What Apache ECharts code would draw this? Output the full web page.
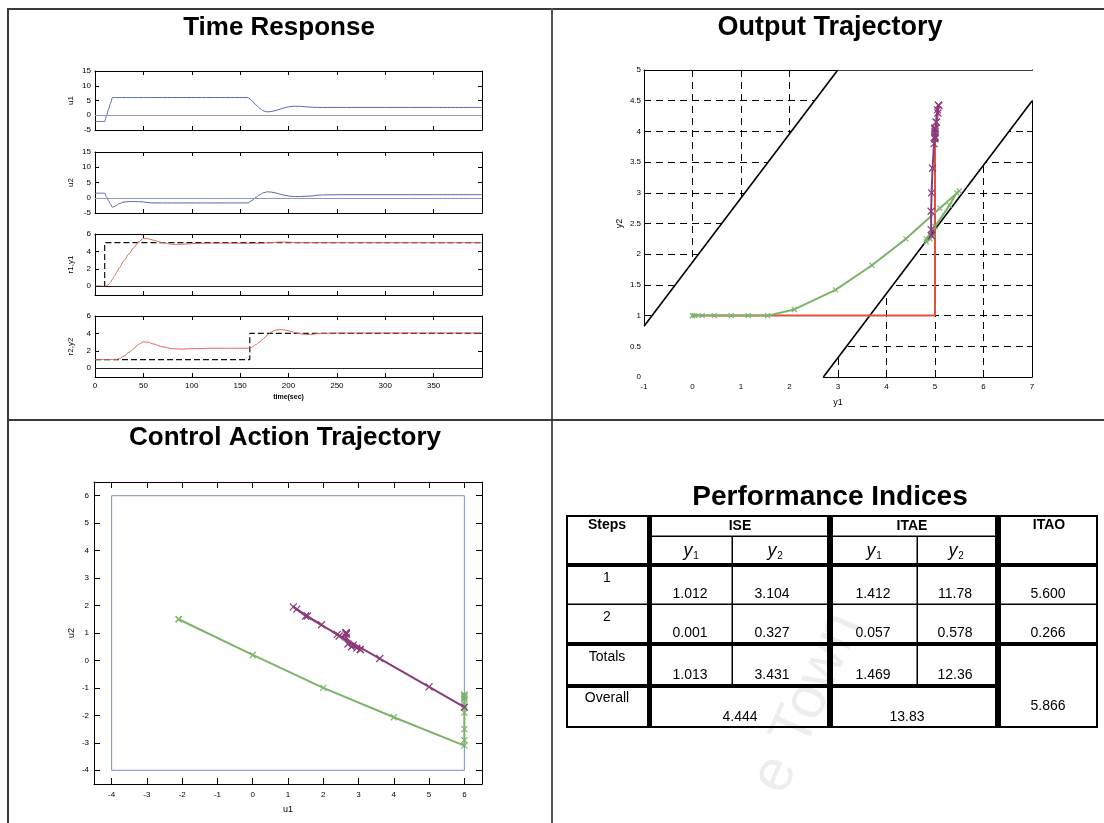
<!DOCTYPE html>
<html>
<head>
<meta charset="utf-8">
<title>Step test results</title>
<script src="https://cdn.jsdelivr.net/npm/echarts@6.0.0/dist/echarts.min.js"></script>
<style>
  html, body { margin: 0; padding: 0; background: #fff; }
  #chart { width: 1104px; height: 823px; }
</style>
</head>
<body>
<div id="chart"></div>
<script>
const FONT = "'Liberation Sans', Arial, Helvetica, sans-serif";

// Simulation time base, seconds
const time = [0, 10, 12, 14, 16, 18, 20, 22, 25, 30, 35, 40, 45, 50, 55, 60, 70, 80, 90, 100, 120, 140, 158,
              162, 166, 170, 174, 178, 182, 186, 190, 195, 200, 205, 210, 215, 220, 225, 230, 240, 260, 300, 350, 400];

// Manipulated inputs
const u1 = [-2.1, -2.1, 0.0, 2.0, 4.0, 6.0, 6, 6, 6, 6, 6, 6, 6, 6, 6, 6, 6, 6, 6, 6, 6, 6, 6,
            5.0, 3.6, 2.4, 1.5, 1.15, 1.25, 1.55, 1.95, 2.45, 2.85, 3.05, 3.05, 2.95, 2.8, 2.7, 2.65, 2.65, 2.65, 2.65, 2.65, 2.65];
const u2 = [1.5, 1.5, 0.2, -1.0, -2.07, -3.1, -2.9, -2.5, -1.9, -1.4, -1.25, -1.25, -1.3, -1.35, -1.6, -1.7, -1.7, -1.7, -1.7, -1.7, -1.7, -1.7, -1.7,
            -0.96, 0.07, 0.95, 1.62, 1.95, 1.87, 1.62, 1.3, 0.89, 0.56, 0.4, 0.4, 0.45, 0.5, 0.6, 0.85, 0.95, 1.0, 1.0, 1.0, 1.0];

// Controlled outputs
const y1 = [0, 0, 0.05, 0.2, 0.45, 0.8, 1.15, 1.55, 2.1, 2.95, 3.7, 4.4, 5.1, 5.5, 5.45, 5.3, 5.0, 4.82, 4.82, 4.9, 4.95, 4.95, 4.93,
            4.92, 4.92, 4.93, 4.95, 4.98, 5.02, 5.05, 5.07, 5.08, 5.06, 5.03, 5.0, 5.0, 5.0, 5.0, 5.0, 5.0, 5.0, 5.0, 5.0, 5.0];
const y2 = [1, 1, 1, 1, 1, 1, 1, 1.0, 1.1, 1.42, 1.82, 2.25, 2.75, 3.03, 3.0, 2.8, 2.45, 2.25, 2.2, 2.25, 2.3, 2.3, 2.3,
            2.4, 2.7, 3.0, 3.4, 3.8, 4.15, 4.35, 4.43, 4.42, 4.3, 4.15, 4.0, 3.92, 3.88, 3.9, 3.98, 4.03, 4.05, 4.05, 4.05, 4.05];

// Set-point schedule: step times and the levels that hold from each step on
const stepTimes = [0, 10, 160];
const r1Levels = [0, 5, 5];
const r2Levels = [1, 1, 4];
const endTime = 400;

// Output constraint band: r2 - slope*r1 kept between the two offsets
const outSlope = 1.045;
const outOffsets = [1.87, -2.82];

// Input limits (both inputs)
const uLimits = [-4, 6];

// Tick labels
const timeTicks = [0, 50, 100, 150, 200, 250, 300, 350];
const rTicks = [0, 2, 4, 6];
const ctrlTicks = [-4, -3, -2, -1, 0, 1, 2, 3, 4, 5, 6];

// Performance indices table
const stepNames = ['1', '2'];
const iseY1 = ['1.012', '0.001'];
const iseY2 = ['3.104', '0.327'];
const itaeY1 = ['1.412', '0.057'];
const itaeY2 = ['11.78', '0.578'];
const itao = ['5.600', '0.266'];
const iseTotals = ['1.013', '3.431'];
const itaeTotals = ['1.469', '12.36'];
const overall = ['4.444', '13.83', '5.866'];

// ---------------------------------------------------------------------------
const C = {
  uLine: '#5567ab', uZero: '#8e97c8', yRed: '#dd6a55', ref: '#111',
  green: '#7cb46c', purple: '#8b3b7b', pathRed: '#e4503a', limit: '#7d8dc8'
};
const xSym = 'path://M0,0L10,10M10,0L0,10';

function axisPair(dim, gridIndex, o) {
  const mk = () => ({
    type: 'value', gridIndex: gridIndex, min: o.min, max: o.max, interval: o.interval,
    axisLine: { show: true, onZero: false, lineStyle: { color: '#000', width: 1 } },
    axisTick: { show: true, inside: true, length: o.tick || 4, lineStyle: { color: '#000', width: 1 },
                customValues: o.ticks },
    splitLine: { show: false },
    axisLabel: { show: false }
  });
  const main = mk();
  main.position = dim === 'x' ? 'bottom' : 'left';
  main.axisLabel = {
    show: o.labels !== false,
    customValues: Array.isArray(o.labels) ? o.labels : undefined,
    fontSize: o.fontSize || 8, fontFamily: FONT, color: '#000', margin: o.margin || 4
  };
  if (o.name) {
    main.name = o.name; main.nameLocation = 'middle'; main.nameGap = o.nameGap;
    main.nameRotate = dim === 'y' ? 90 : 0;
    main.nameTextStyle = { fontSize: o.nameSize || 9, fontFamily: FONT, color: '#000', fontWeight: o.nameWeight || 'normal' };
  }
  if (o.split) main.splitLine = { show: true, lineStyle: { color: '#000', width: 1, type: [7, 5] } };
  const twin = mk();
  twin.position = dim === 'x' ? 'top' : 'right';
  return [main, twin];
}

const grids = [
  { left: 95, top: 71, width: 387, height: 59 },
  { left: 95, top: 152, width: 387, height: 61 },
  { left: 95, top: 234, width: 387, height: 61 },
  { left: 95, top: 316, width: 387, height: 61 },
  { left: 644, top: 70, width: 388, height: 307 },
  { left: 94, top: 482, width: 388, height: 302 }
].map(g => Object.assign({ containLabel: false, outerBoundsMode: 'none', show: false }, g));

const xAxes = [], yAxes = [];
const tX = (gi, last) => axisPair('x', gi, { min: 0, max: endTime, interval: 50,
  labels: last ? timeTicks : false, name: last ? 'time(sec)' : null, nameGap: 17, nameSize: 7, nameWeight: 'bold', margin: 5 });
// time-response panels
[['u1', 'u'], ['u2', 'u'], ['r1,y1', 'r'], ['r2,y2', 'r']].forEach(([nm, kind], i) => {
  xAxes.push(...tX(i, i === 3));
  if (kind === 'u') yAxes.push(...axisPair('y', i, { min: -5, max: 15, interval: 5, name: nm, nameGap: 20, nameSize: 8 }));
  else yAxes.push(...axisPair('y', i, { min: -1, max: 6, labels: rTicks, ticks: rTicks, name: nm, nameGap: 20, nameSize: 8 }));
});
// output trajectory
xAxes.push(...axisPair('x', 4, { min: -1, max: 7, interval: 1, split: true, name: 'y1', nameGap: 21, margin: 6, tick: 5 }));
yAxes.push(...axisPair('y', 4, { min: 0, max: 5, interval: 0.5, split: true, name: 'y2', nameGap: 20, margin: 3, tick: 5 }));
// control action trajectory
xAxes.push(...axisPair('x', 5, { min: -4.5, max: 6.5, labels: ctrlTicks, ticks: ctrlTicks, name: 'u1', nameGap: 21, margin: 7, tick: 6 }));
yAxes.push(...axisPair('y', 5, { min: -4.5, max: 6.5, labels: ctrlTicks, ticks: ctrlTicks, name: 'u2', nameGap: 18, margin: 5, tick: 6 }));

const zip = (a, b) => a.map((v, i) => [v, b[i]]);
const ax = gi => ({ xAxisIndex: 2 * gi, yAxisIndex: 2 * gi });

function stepSeriesData(levels) {
  const pts = [];
  stepTimes.forEach((t, i) => {
    if (i > 0) pts.push([t, levels[i - 1]]);
    pts.push([t, levels[i]]);
  });
  pts.push([endTime, levels[levels.length - 1]]);
  return pts;
}
const zeroMark = color => ({
  silent: true, symbol: 'none', label: { show: false },
  lineStyle: { color: color, width: 1, type: 'solid' }, data: [{ yAxis: 0 }]
});
const timeLine = (gi, vals, color, zeroColor) => Object.assign({
  type: 'line', data: zip(time, vals), showSymbol: false, smooth: 0.3, smoothMonotone: 'x',
  lineStyle: { color: color, width: 1 }, itemStyle: { color: color }, z: 4,
  markLine: zeroColor ? zeroMark(zeroColor) : undefined
}, ax(gi));
const refLine = (gi, levels) => Object.assign({
  type: 'line', data: stepSeriesData(levels), showSymbol: false,
  lineStyle: { color: C.ref, width: 1.2, type: [6, 3] }, z: 3
}, ax(gi));

// split of the run into the two set-point steps
let k = 0;
time.forEach((t, i) => { if (t <= stepTimes[2]) k = i; });
const part = (arr, first) => first ? arr.slice(0, k + 1) : arr.slice(k);

const phase = (gi, xs, ys, color, size, z) => Object.assign({
  type: 'line', data: zip(xs, ys), showSymbol: true, symbol: xSym, symbolSize: size,
  lineStyle: { color: color, width: 2 },
  itemStyle: { color: color, borderColor: color, borderWidth: 1.2 }, z: z
}, ax(gi));

// feasible output band, clipped to the plot box
function clipHalf(poly, f) {
  const out = [];
  for (let i = 0; i < poly.length; i++) {
    const a = poly[i], b = poly[(i + 1) % poly.length];
    const fa = f(a), fb = f(b);
    if (fa >= 0) out.push(a);
    if ((fa >= 0) !== (fb >= 0)) {
      const s = fa / (fa - fb);
      out.push([a[0] + s * (b[0] - a[0]), a[1] + s * (b[1] - a[1])]);
    }
  }
  return out;
}
const oxMin = -1, oxMax = 7, oyMin = 0, oyMax = 5;
let band = [[oxMin - 0.03, oyMin - 0.02], [oxMax + 0.03, oyMin - 0.02], [oxMax + 0.03, oyMax - 0.012], [oxMin - 0.03, oyMax - 0.012]];
band = clipHalf(band, p => outOffsets[0] - (p[1] - outSlope * p[0]));
band = clipHalf(band, p => (p[1] - outSlope * p[0]) - outOffsets[1]);
function boundLine(b) {
  const xa = Math.max(oxMin, (oyMin - b) / outSlope), xb = Math.min(oxMax, (oyMax - b) / outSlope);
  return [[xa, outSlope * xa + b], [xb, outSlope * xb + b]];
}

const limitBox = [[uLimits[0], uLimits[0]], [uLimits[1], uLimits[0]], [uLimits[1], uLimits[1]],
                  [uLimits[0], uLimits[1]], [uLimits[0], uLimits[0]]];

const series = [
  timeLine(0, u1, C.uLine, C.uZero),
  timeLine(1, u2, C.uLine, C.uZero),
  refLine(2, r1Levels),
  timeLine(2, y1, C.yRed, '#222'),
  refLine(3, r2Levels),
  timeLine(3, y2, C.yRed, '#222'),
  // output trajectory
  Object.assign({
    type: 'custom', data: [[0, 0]], silent: true, z: 2,
    renderItem: (params, api) => ({
      type: 'polygon', shape: { points: band.map(p => api.coord(p)) }, style: { fill: '#fff' }
    })
  }, ax(4)),
  ...outOffsets.map(b => Object.assign({
    type: 'line', data: boundLine(b), showSymbol: false, lineStyle: { color: '#000', width: 1.6 }, z: 3
  }, ax(4))),
  Object.assign({
    type: 'line', data: zip(r1Levels, r2Levels), showSymbol: false, lineStyle: { color: C.pathRed, width: 2 }, z: 4
  }, ax(4)),
  phase(4, part(y1, true), part(y2, true), C.green, 5, 5),
  phase(4, part(y1, false), part(y2, false), C.purple, 7, 6),
  // control action trajectory
  Object.assign({
    type: 'line', data: limitBox, showSymbol: false, lineStyle: { color: C.limit, width: 1 }, z: 3
  }, ax(5)),
  phase(5, part(u1, true), part(u2, true), C.green, 6, 5),
  phase(5, part(u1, false), part(u2, false), C.purple, 7, 6)
];

// ---------------------------------------------------------------------------
// panel frame, titles and the indices table
const graphic = [];
const bar = (x1, y1_, x2, y2_, fill) => graphic.push({ type: 'rect', silent: true, z: 10,
  shape: { x: x1, y: y1_, width: x2 - x1, height: y2_ - y1_ }, style: { fill: fill || '#000' } });
const text = (x, y, s, font, align) => graphic.push({ type: 'text', silent: true, z: 11, x: x, y: y,
  style: { text: s, font: font, fill: '#000', align: align || 'center', verticalAlign: 'middle',
           textAlign: align || 'center', textVerticalAlign: 'middle' } });

// panel frame
bar(7, 8, 1104, 10, '#3a3a3a');
bar(7, 8, 9, 823, '#3a3a3a');
bar(551, 8, 553, 823, '#555');
bar(7, 419, 1104, 421, '#3a3a3a');

const titleFont = 'bold 26px ' + FONT;
text(279, 28, 'Time Response', titleFont);
text(830, 28, 'Output Trajectory', 'bold 27px ' + FONT);
text(285, 438, 'Control Action Trajectory', titleFont);
text(830, 497, 'Performance Indices', 'bold 28px ' + FONT);

// table rules
bar(567, 515, 1097, 517);
bar(566, 515, 568, 728);
bar(1096, 515, 1098, 728);
bar(566, 726, 1098, 728);
bar(647, 515, 652, 728);
bar(827, 515, 833, 728);
bar(995, 515, 1001, 728);
bar(652, 535.5, 827, 537);
bar(833, 535.5, 995, 537);
bar(731.5, 536, 733, 684);
bar(916.5, 536, 918, 684);
bar(567, 563, 1097, 567);
bar(567, 603.5, 1097, 605);
bar(567, 642, 1097, 646);
bar(567, 684, 995, 688);

const hFont = 'bold 14px ' + FONT, vFont = '14px ' + FONT;
text(607, 525, 'Steps', hFont);
text(740, 526, 'ISE', hFont);
text(912, 526, 'ITAE', hFont);
text(1049, 525, 'ITAO', hFont);
[[690, '1'], [774, '2'], [873, '1'], [955, '2']].forEach(([cx, sub]) => {
  text(cx - 2, 551, 'y', 'italic 18px ' + FONT);
  text(cx + 6, 556, sub, '10px ' + FONT);
});
const colCx = [690, 772, 873, 955, 1048];
stepNames.forEach((nm, i) => {
  const rowTop = i === 0 ? 578 : 617;
  const rowVal = i === 0 ? 594 : 633;
  text(607, rowTop, nm, vFont);
  [iseY1[i], iseY2[i], itaeY1[i], itaeY2[i], itao[i]].forEach((v, j) => text(colCx[j], rowVal, v, vFont));
});
text(607, 657, 'Totals', vFont);
[iseTotals[0], iseTotals[1], itaeTotals[0], itaeTotals[1]].forEach((v, j) => text(colCx[j], 675, v, vFont));
text(607, 698, 'Overall', vFont);
text(740, 717, overall[0], vFont);
text(907, 717, overall[1], vFont);
text(1048, 706, overall[2], vFont);

// faint watermark
graphic.push({ type: 'text', silent: true, z: 12, x: 796, y: 802, rotation: 66 * Math.PI / 180,
  style: { text: 'e Town', font: '60px ' + FONT, fill: 'rgba(0,0,0,0.07)', align: 'left', verticalAlign: 'bottom',
           textAlign: 'left', textVerticalAlign: 'bottom' } });

const chart = echarts.init(document.getElementById('chart'), null, { renderer: 'canvas' });
chart.setOption({
  animation: false,
  backgroundColor: '#fff',
  grid: grids,
  xAxis: xAxes,
  yAxis: yAxes,
  series: series,
  graphic: graphic
});
</script>
</body>
</html>
